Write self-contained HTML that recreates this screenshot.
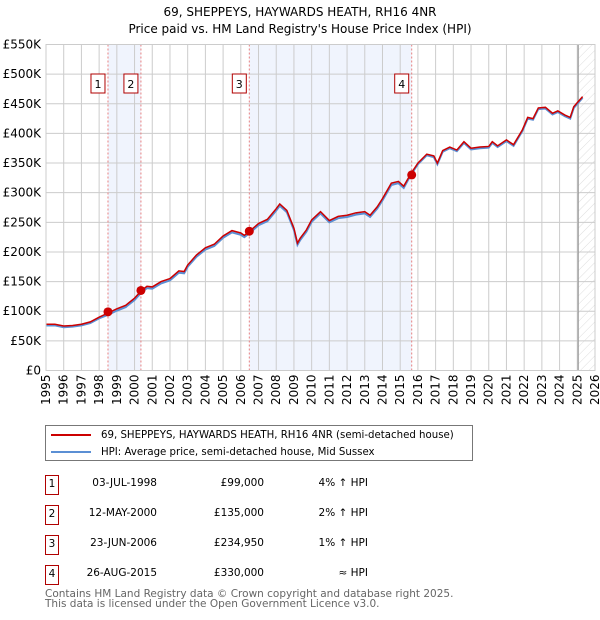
<!DOCTYPE html>
<html><head><meta charset="utf-8"><style>
body{margin:0;background:#fff;font-family:"DejaVu Sans","Liberation Sans",sans-serif;}
#wrap{position:relative;width:600px;height:620px;overflow:hidden}
</style></head><body>
<div id="wrap">
<svg id="chart" width="600" height="620" xmlns="http://www.w3.org/2000/svg" font-family="DejaVu Sans, Liberation Sans, sans-serif">
<defs><pattern id="hatch" width="6" height="6" patternUnits="userSpaceOnUse" patternTransform="rotate(45)"><line x1="0" y1="0" x2="0" y2="6" stroke="#d4d4d4" stroke-width="0.8"/></pattern></defs>
<text x="300" y="16" text-anchor="middle" font-size="12" fill="#000">69, SHEPPEYS, HAYWARDS HEATH, RH16 4NR</text>
<text x="300" y="33" text-anchor="middle" font-size="12" fill="#000">Price paid vs. HM Land Registry's House Price Index (HPI)</text>
<g id="grid"></g><g id="marks"></g><g id="axes"></g>
</svg>
<div style="position:absolute;left:45px;top:425px;width:426px;height:34px;border:1px solid #777;font-size:10.2px;">
 <div style="position:absolute;left:5px;top:4px;white-space:nowrap"><span style="display:inline-block;width:40px;height:2px;background:#cc0000;vertical-align:middle;margin-right:10px"></span>69, SHEPPEYS, HAYWARDS HEATH, RH16 4NR (semi-detached house)</div>
 <div style="position:absolute;left:5px;top:21px;white-space:nowrap"><span style="display:inline-block;width:40px;height:2px;background:#5b8fd4;vertical-align:middle;margin-right:10px"></span>HPI: Average price, semi-detached house, Mid Sussex</div>
</div>
<div id="table" style="font-size:10.5px"></div>
<div style="position:absolute;left:45px;top:589px;font-size:10.5px;color:#666;line-height:10px">Contains HM Land Registry data © Crown copyright and database right 2025.<br>This data is licensed under the Open Government Licence v3.0.</div>
</div>
<script>
const years=[1995,1995.5,1996,1996.5,1997,1997.5,1998,1998.5,1999,1999.5,2000,2000.4,2000.7,2001,2001.5,2002,2002.5,2002.8,2003,2003.5,2004,2004.5,2005,2005.5,2006,2006.2,2006.5,2007,2007.5,2008,2008.2,2008.6,2009,2009.2,2009.35,2009.7,2010,2010.5,2011,2011.5,2012,2012.5,2013,2013.3,2013.7,2014,2014.5,2014.9,2015.2,2015.6,2016,2016.5,2016.9,2017.1,2017.4,2017.8,2018.2,2018.6,2019,2019.5,2020,2020.2,2020.5,2021,2021.4,2021.9,2022.2,2022.5,2022.8,2023.2,2023.6,2023.9,2024.3,2024.6,2024.8,2025.0,2025.3];
const priceK=[78,78,75,76,78,82,90,97,104,110,122,135,142,141,150,155,168,167,178,195,207,213,227,236,232,228,235,248,255,273,281,270,240,215,223,237,254,268,253,260,262,266,268,262,276,290,316,319,311,332,350,365,362,350,371,377,372,386,375,377,378,386,379,389,381,406,427,425,443,444,434,438,431,427,445,452,462];
const hpiK=[76,76,73,74,76,80,88,94,101,107,119,132,139,138,147,152,165,164,175,192,204,210,224,233,229,225,232,245,252,270,278,267,237,212,220,234,251,265,250,257,259,263,265,259,273,287,313,316,308,330,348,363,360,348,369,375,370,384,373,375,376,384,377,387,379,404,425,423,441,442,432,436,429,425,443,450,460];
const saleYears=[1998.50,2000.36,2006.48,2015.65];
const saleK=[99,135,234.95,330];
const saleLabels=["1","2","3","4"];
const saleDates=["03-JUL-1998","12-MAY-2000","23-JUN-2006","26-AUG-2015"];
const salePrices=["£99,000","£135,000","£234,950","£330,000"];
const saleHpi=["4% ↑ HPI","2% ↑ HPI","1% ↑ HPI","≈ HPI"];
const yTicks=[0,50,100,150,200,250,300,350,400,450,500,550];
const yTickLabels=["£0","£50K","£100K","£150K","£200K","£250K","£300K","£350K","£400K","£450K","£500K","£550K"];
const xTicks=[1995,1996,1997,1998,1999,2000,2001,2002,2003,2004,2005,2006,2007,2008,2009,2010,2011,2012,2013,2014,2015,2016,2017,2018,2019,2020,2021,2022,2023,2024,2025,2026];
const dataEnd=2025.05;

const L=46,R=595,T=44.5,B=370.5;
const X=y=>L+(y-1995)/31*(R-L);
const Y=v=>B-v/550*(B-T);
const NS="http://www.w3.org/2000/svg";
function mk(parent,tag,attrs){const e=document.createElementNS(NS,tag);for(const k in attrs)e.setAttribute(k,attrs[k]);document.getElementById(parent).appendChild(e);return e;}

for(let i=0;i<saleYears.length;i+=2){
 const r=mk('grid','rect',{x:X(saleYears[i]),y:T,width:X(saleYears[i+1])-X(saleYears[i]),height:B-T,fill:'#f0f4fd'});
 
 
}
const h=mk('grid','rect',{x:X(dataEnd),y:T,width:R-X(dataEnd),height:B-T,fill:'url(#hatch)'});


xTicks.forEach(t=>{
 const l=mk('grid','line',{x1:X(t),x2:X(t),y1:T,y2:B,stroke:'#cccccc','stroke-width':1});
 
 
 const tx=mk('axes','text',{x:0,y:0,'font-size':12,'text-anchor':'end',transform:`translate(${X(t)+4},${B+4}) rotate(-90)`});
 tx.textContent=t;
 
 
});
yTicks.forEach((t,i)=>{
 const l=mk('grid','line',{x1:L,x2:R,y1:Y(t),y2:Y(t),stroke:'#cccccc','stroke-width':1});
 
 
 const tx=mk('axes','text',{x:L-5,y:Y(t)+4,'font-size':12,'text-anchor':'end'});
 tx.textContent=yTickLabels[i];
 
 
});
const el=mk('grid','line',{x1:X(dataEnd),x2:X(dataEnd),y1:T,y2:B,stroke:'#999','stroke-width':1.2});


saleYears.forEach(s=>{
 const l=mk('marks','line',{x1:X(s),x2:X(s),y1:T,y2:B,stroke:'#e88080','stroke-width':1,'stroke-dasharray':'2,2'});
 
 
});
const hp=mk('marks','polyline',{points:years.map((y,i)=>X(y)+','+Y(hpiK[i])).join(' '),fill:'none',stroke:'#5b8fd4','stroke-width':2});


const pp=mk('marks','polyline',{points:years.map((y,i)=>X(y)+','+Y(priceK[i])).join(' '),fill:'none',stroke:'#cc0000','stroke-width':1.5});


saleYears.forEach((s,i)=>{
 const c=mk('marks','circle',{cx:X(s),cy:Y(saleK[i]),r:4.5,fill:'#cc0000'});
 
 
 const bx=mk('marks','rect',{x:X(s)-17,y:74,width:14,height:19,fill:'#fff',stroke:'#b00000','stroke-width':1});
 
 
 const t=mk('marks','text',{x:X(s)-10,y:88,'font-size':11,'text-anchor':'middle'});
 t.textContent=saleLabels[i];
 
 
});
const ax=mk('axes','rect',{x:L,y:T,width:R-L,height:B-T,fill:'none',stroke:'#cccccc'});


const tb=document.getElementById('table');
saleDates.forEach((d,i)=>{
 const top=475+i*30;
 const row=document.createElement('div');
 
 
 row.style.cssText=`position:absolute;left:0;top:${top}px;width:600px;height:20px;`;
 row.innerHTML=`<div style="position:absolute;left:45px;top:0;width:12px;height:18px;border:1px solid #b00000;text-align:center;line-height:16px">${saleLabels[i]}</div>
 <div style="position:absolute;right:443px;top:2px">${d}</div>
 <div style="position:absolute;right:336px;top:2px">${salePrices[i]}</div>
 <div style="position:absolute;right:232px;top:2px">${saleHpi[i]}</div>`;
 tb.appendChild(row);
});
</script>
</body></html>
